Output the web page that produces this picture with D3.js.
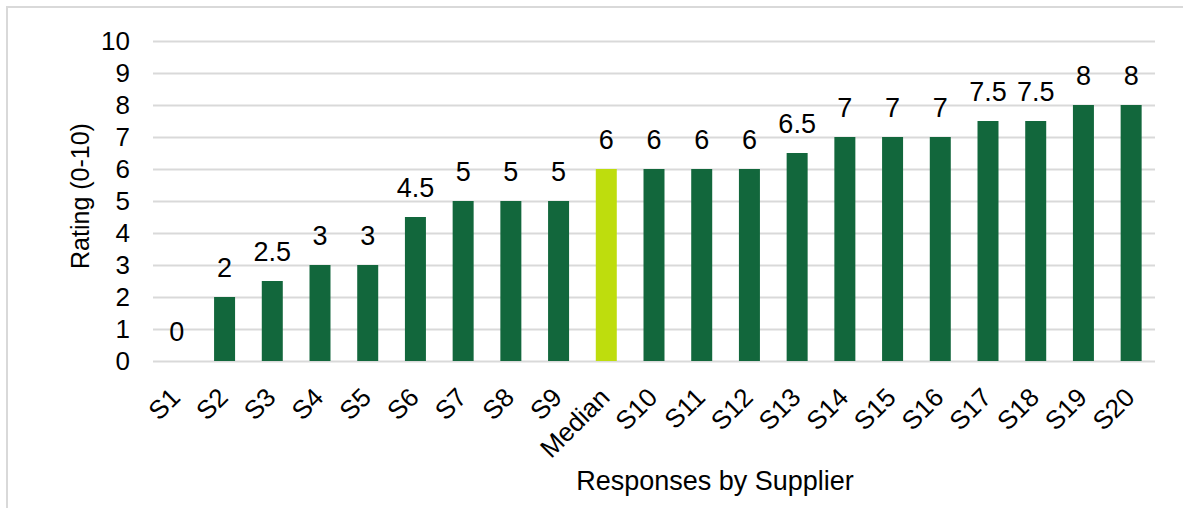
<!DOCTYPE html>
<html>
<head>
<meta charset="utf-8">
<script src="https://cdn.jsdelivr.net/npm/d3@7"></script>
<style>
  html, body { margin: 0; padding: 0; background: #fff; }
  svg { display: block; font-family: "Liberation Sans", Arial, sans-serif; }
</style>
</head>
<body>
<svg id="chart" width="1183" height="508"></svg>
<script>
// Supplier ratings, sorted ascending, with the median inserted in order
const categories = ["S1", "S2", "S3", "S4", "S5", "S6", "S7", "S8", "S9", "Median",
  "S10", "S11", "S12", "S13", "S14", "S15", "S16", "S17", "S18", "S19", "S20"];
const ratings = [0, 2, 2.5, 3, 3, 4.5, 5, 5, 5, 6, 6, 6, 6, 6.5, 7, 7, 7, 7.5, 7.5, 8, 8];
const highlighted = ["Median"];
const yTicks = [0, 1, 2, 3, 4, 5, 6, 7, 8, 9, 10];

const xTitle = "Responses by Supplier";
const yTitle = "Rating (0-10)";

const svg = d3.select("#chart");
const W = 1183, H = 508;
const plot = { left: 153, right: 1155, top: 41, bottom: 361 };

// outer frame of the chart area
svg.append("rect")
  .attr("x", 7).attr("y", 7)
  .attr("width", W + 20).attr("height", H + 20)
  .attr("fill", "none").attr("stroke", "#d9d9d9").attr("stroke-width", 2);

const x = d3.scaleBand()
  .domain(categories)
  .range([plot.left, plot.right])
  .paddingInner(0.56).paddingOuter(0.28);

const y = d3.scaleLinear().domain([0, 10]).range([plot.bottom, plot.top]);

// horizontal gridlines + y tick labels
const yAxis = d3.axisLeft(y).tickValues(yTicks).tickSize(-(plot.right - plot.left)).tickPadding(23);
const gy = svg.append("g").attr("transform", `translate(${plot.left},0)`).call(yAxis);
gy.select(".domain").remove();
gy.selectAll(".tick line").attr("stroke", "#d9d9d9").attr("stroke-width", 2);
gy.selectAll(".tick text").attr("fill", "#000").attr("font-size", 26)
  .attr("font-family", "Liberation Sans, Arial, sans-serif");

// bars
svg.append("g").selectAll("rect")
  .data(categories)
  .join("rect")
  .attr("x", d => x(d))
  .attr("width", x.bandwidth())
  .attr("y", (d, i) => y(ratings[i]))
  .attr("height", (d, i) => y(0) - y(ratings[i]))
  .attr("fill", d => highlighted.includes(d) ? "#bedd0d" : "#12673c");

// value labels above bars
svg.append("g").selectAll("text")
  .data(categories)
  .join("text")
  .attr("x", d => x(d) + x.bandwidth() / 2)
  .attr("y", (d, i) => y(ratings[i]) - 20)
  .attr("text-anchor", "middle")
  .attr("font-size", 27)
  .attr("fill", "#000")
  .text((d, i) => String(ratings[i]));

// rotated category labels
const xAxis = d3.axisBottom(x).tickSize(0).tickPadding(0);
const gx = svg.append("g").attr("transform", `translate(0,${plot.bottom})`).call(xAxis);
gx.select(".domain").remove();
gx.selectAll(".tick text")
  .attr("fill", "#000")
  .attr("font-size", 26)
  .attr("font-family", "Liberation Sans, Arial, sans-serif")
  .attr("text-anchor", "end")
  .attr("dy", 0)
  .attr("y", 0)
  .attr("transform", "translate(5,38) rotate(-45)");

// axis titles
svg.append("text")
  .attr("x", 715).attr("y", 490)
  .attr("text-anchor", "middle")
  .attr("font-size", 27)
  .attr("fill", "#000")
  .text(xTitle);

svg.append("text")
  .attr("transform", "translate(89,196) rotate(-90)")
  .attr("text-anchor", "middle")
  .attr("font-size", 25)
  .attr("fill", "#000")
  .text(yTitle);
</script>
</body>
</html>
